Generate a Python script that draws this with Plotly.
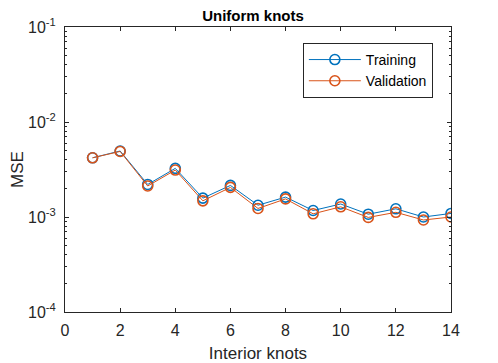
import plotly.graph_objects as go

# values
knots = list(range(1, 15))
training = [4.2e-3, 4.95e-3, 2.2e-3, 3.25e-3, 1.58e-3, 2.15e-3, 1.33e-3, 1.62e-3,
            1.17e-3, 1.37e-3, 1.07e-3, 1.22e-3, 1.0e-3, 1.09e-3]
validation = [4.2e-3, 4.9e-3, 2.12e-3, 3.12e-3, 1.48e-3, 2.05e-3, 1.23e-3, 1.55e-3,
              1.08e-3, 1.28e-3, 0.99e-3, 1.12e-3, 0.93e-3, 1.0e-3]
ytick_vals = [1e-4, 1e-3, 1e-2, 1e-1]
ytick_text = ["10<sup>-4</sup>", "10<sup>-3</sup>", "10<sup>-2</sup>", "10<sup>-1</sup>"]

# minor log ticks 2..9 in each decade
minor_vals = [k * 10.0 ** e for e in (-4, -3, -2) for k in range(2, 10)]

fig = go.Figure()
fig.add_trace(go.Scatter(
    x=knots, y=training, name="Training", mode="lines+markers",
    line=dict(color="#0072BD", width=1),
    marker=dict(symbol="circle-open", size=10, color="#0072BD", line=dict(width=1.6)),
))
fig.add_trace(go.Scatter(
    x=knots, y=validation, name="Validation", mode="lines+markers",
    line=dict(color="#D95319", width=1),
    marker=dict(symbol="circle-open", size=10, color="#D95319", line=dict(width=1.6)),
))

axis_style = dict(
    showline=True, linecolor="#262626", linewidth=1, mirror="ticks",
    ticks="inside", ticklen=4, tickcolor="#262626", showgrid=False, zeroline=False,
    tickfont=dict(size=16, color="#262626"), automargin=False,
)

fig.update_xaxes(
    range=[0, 14], tickvals=[0, 2, 4, 6, 8, 10, 12, 14], ticklabelstandoff=4,
    title=dict(text="Interior knots", font=dict(size=17, color="#262626"), standoff=10),
    **axis_style,
)
fig.update_yaxes(
    type="log", range=[-4, -1], tickvals=ytick_vals, ticktext=ytick_text,
    ticklabelstandoff=5,
    title=dict(text="MSE", font=dict(size=17, color="#262626"), standoff=10),
    minor=dict(ticks="inside", ticklen=2, tickcolor="#262626", showgrid=False,
               tickvals=minor_vals),
    **axis_style,
)

# page body adds an 8px offset, so the figure is a bit smaller than the window
fig.update_layout(
    width=490, height=355,
    margin=dict(l=57, r=47, t=19, b=51),
    paper_bgcolor="white", plot_bgcolor="white",
    font=dict(family="Liberation Sans, Arial, sans-serif", color="#262626"),
    title=dict(text="<b>Uniform knots</b>", x=0.5, xanchor="center",
               y=0.992, yanchor="top", pad=dict(t=0),
               font=dict(size=15, color="black"), automargin=False),
    legend=dict(
        x=0.953, xanchor="right", y=0.944, yanchor="top",
        bgcolor="white", bordercolor="#262626", borderwidth=1,
        font=dict(size=14, color="black"),
        itemwidth=52, tracegroupgap=0,
    ),
)

fig.write_html("out.html")
